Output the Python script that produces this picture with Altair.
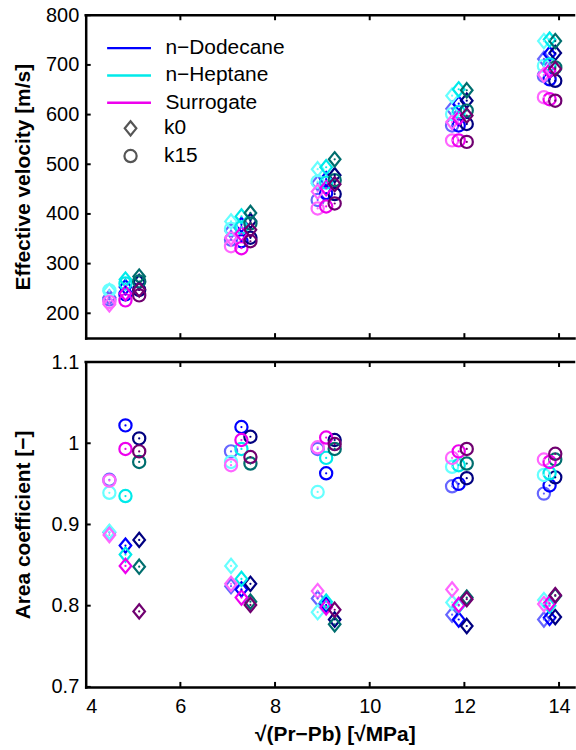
import altair as alt
import pandas as pd

FLUIDS = ["n−Dodecane", "n−Heptane", "Surrogate"]

# sqrt(Pr - Pb) for the three back pressures (light, mid, dark shade) at five rail pressures
X_LIGHT = [4.50, 7.07, 8.90, 11.74, 13.68]
X_MID = [4.84, 7.29, 9.08, 11.88, 13.80]
X_DARK = [5.13, 7.48, 9.26, 12.05, 13.92]

# Effective velocity [m/s]; rows are light / mid / dark shade
VEL_K0_DODECANE = [[232, 366, 462, 612, 712], [253, 378, 470, 622, 722], [263, 386, 478, 628, 724]]
VEL_K0_HEPTANE = [[245, 385, 490, 638, 748], [268, 395, 494, 651, 751], [274, 402, 510, 649, 748]]
VEL_K0_SURROGATE = [[218, 352, 445, 585, 680], [240, 360, 452, 592, 688], [248, 368, 460, 598, 692]]
VEL_K15_DODECANE = [[228, 348, 428, 578, 678], [238, 345, 442, 578, 671], [247, 352, 440, 581, 668]]
VEL_K15_HEPTANE = [[246, 370, 465, 601, 698], [260, 373, 463, 605, 701], [264, 381, 468, 608, 695]]
VEL_K15_SURROGATE = [[223, 335, 411, 548, 635], [226, 331, 415, 548, 631], [236, 345, 421, 545, 628]]

# Area coefficient [-]
AREA_K0_DODECANE = [[0.890, 0.824, 0.809, 0.789, 0.783], [0.874, 0.820, 0.801, 0.783, 0.785], [0.881, 0.827, 0.783, 0.775, 0.786]]
AREA_K0_HEPTANE = [[0.891, 0.849, 0.792, 0.804, 0.807], [0.863, 0.833, 0.805, 0.800, 0.800], [0.848, 0.805, 0.777, 0.810, 0.812]]
AREA_K0_SURROGATE = [[0.887, 0.827, 0.818, 0.820, 0.802], [0.849, 0.810, 0.798, 0.801, 0.803], [0.793, 0.801, 0.795, 0.808, 0.813]]
AREA_K15_DODECANE = [[0.955, 0.990, 0.993, 0.947, 0.938], [1.022, 1.020, 0.963, 0.950, 0.948], [1.006, 1.008, 1.004, 0.957, 0.958]]
AREA_K15_HEPTANE = [[0.939, 0.977, 0.940, 0.971, 0.961], [0.935, 0.993, 0.982, 0.973, 0.963], [0.977, 0.975, 0.993, 0.975, 0.980]]
AREA_K15_SURROGATE = [[0.954, 0.973, 0.995, 0.982, 0.980], [0.993, 1.004, 1.007, 0.990, 0.977], [0.990, 0.983, 0.999, 0.993, 0.987]]

SHADE_COLORS = {
    "n−Dodecane": ["#6666ff", "#0000ff", "#000080"],
    "n−Heptane": ["#66ffff", "#00eaea", "#006e6e"],
    "Surrogate": ["#ff66ff", "#ee00ee", "#700070"],
}

X_TICKS = [4, 6, 8, 10, 12, 14]
VEL_TICKS = [200, 300, 400, 500, 600, 700, 800]
AREA_TICKS = [0.7, 0.8, 0.9, 1.0, 1.1]

X_BY_SHADE = [X_LIGHT, X_MID, X_DARK]
VEL = {
    ("n−Dodecane", "k0"): VEL_K0_DODECANE, ("n−Heptane", "k0"): VEL_K0_HEPTANE,
    ("Surrogate", "k0"): VEL_K0_SURROGATE, ("n−Dodecane", "k15"): VEL_K15_DODECANE,
    ("n−Heptane", "k15"): VEL_K15_HEPTANE, ("Surrogate", "k15"): VEL_K15_SURROGATE,
}
AREA = {
    ("n−Dodecane", "k0"): AREA_K0_DODECANE, ("n−Heptane", "k0"): AREA_K0_HEPTANE,
    ("Surrogate", "k0"): AREA_K0_SURROGATE, ("n−Dodecane", "k15"): AREA_K15_DODECANE,
    ("n−Heptane", "k15"): AREA_K15_HEPTANE, ("Surrogate", "k15"): AREA_K15_SURROGATE,
}


def shade_key(fluid, s):
    return fluid if s == 1 else f"{fluid} {['light', 'mid', 'dark'][s]}"


rows = []
for fluid in FLUIDS:
    for k in ["k0", "k15"]:
        for s in range(3):
            for g in range(5):
                rows.append({
                    "key": shade_key(fluid, s),
                    "k": k,
                    "x": X_BY_SHADE[s][g],
                    "vel": VEL[(fluid, k)][s][g],
                    "area": AREA[(fluid, k)][s][g],
                })
points = pd.DataFrame(rows)

color_domain = list(FLUIDS) + [shade_key(f, s) for f in FLUIDS for s in (0, 2)]
color_range = [SHADE_COLORS[f][1] for f in FLUIDS] + [SHADE_COLORS[f][s] for f in FLUIDS for s in (0, 2)]

DIAMOND = "M0,-1.17L0.95,0L0,1.17L-0.95,0Z"
LEGEND_LINE = "M-4,0L4,0"

W = 490
H_TOP = 324
H_BOT = 326
X_DOM = [4, 14.316]
FONT = "Liberation Sans"
LABEL_SIZE = 20
LEGEND_SIZE = 21
TITLE_SIZE = 21
TICK_LEN = 5

x_ticks_df = pd.DataFrame({"v": X_TICKS[1:]})


def panel(field, ydom, yticks, ytitle, height, bottom, fmt):
    color_legend = None
    shape_legend = None
    if not bottom:
        color_legend = alt.Legend(
            title=None, orient="none", legendX=33, legendY=22.5, values=FLUIDS,
            symbolType=LEGEND_LINE, symbolSize=121, symbolStrokeWidth=2.5,
            labelFont=FONT, labelFontSize=LEGEND_SIZE, labelColor="black", labelOffset=26,
            rowPadding=5.4, padding=0,
        )
        shape_legend = alt.Legend(
            title=None, orient="none", legendX=34.5, legendY=103,
            symbolSize=150, symbolStrokeWidth=2.2, symbolStrokeColor="#555555",
            symbolFillColor="transparent",
            labelFont=FONT, labelFontSize=LEGEND_SIZE, labelColor="black", labelOffset=23,
            rowPadding=3.8, padding=0,
        )
    color = alt.Color("key:N", scale=alt.Scale(domain=color_domain, range=color_range), legend=color_legend)

    if bottom:
        xaxis = alt.Axis(values=X_TICKS, title="√(Pr−Pb) [√MPa]", titleX=250, titleY=37,
                         ticks=False, tickSize=0, labelPadding=10, grid=False)
    else:
        xaxis = alt.Axis(values=X_TICKS, labels=False, title=None, ticks=False, tickSize=0, grid=False)
    xs = alt.X("x:Q", scale=alt.Scale(domain=X_DOM, nice=False, zero=False), axis=xaxis)
    ys = alt.Y(f"{field}:Q", scale=alt.Scale(domain=ydom, nice=False, zero=False),
               axis=alt.Axis(values=yticks, title=ytitle, format=fmt, ticks=False, tickSize=0,
                             labelPadding=7, grid=False, titleX=-52))

    rings = alt.Chart(points).mark_point(filled=False, strokeWidth=2.2, size=150, opacity=1).encode(
        x=xs, y=ys, color=color,
        shape=alt.Shape("k:N", scale=alt.Scale(domain=["k0", "k15"], range=[DIAMOND, "circle"]),
                        legend=shape_legend),
    )
    dots = alt.Chart(points).mark_circle(size=5, opacity=1).encode(
        x="x:Q", y=f"{field}:Q", color=color,
    )

    ticks_df = pd.DataFrame({"v": yticks})
    xb = alt.Chart(x_ticks_df).mark_rule(color="black", strokeWidth=2).encode(
        x="v:Q", y=alt.value(height), y2=alt.value(height - TICK_LEN))
    xt = alt.Chart(x_ticks_df).mark_rule(color="black", strokeWidth=2).encode(
        x="v:Q", y=alt.value(0), y2=alt.value(TICK_LEN))
    yl = alt.Chart(ticks_df).mark_rule(color="black", strokeWidth=2).encode(
        y="v:Q", x=alt.value(0), x2=alt.value(TICK_LEN))
    top_line = alt.Chart(x_ticks_df.head(1)).mark_rule(color="black", strokeWidth=2.5, strokeCap="square").encode(
        x=alt.value(0), x2=alt.value(W), y=alt.value(0))

    return alt.layer(rings, dots, xb, xt, yl, top_line).properties(width=W, height=height)


top = panel("vel", [150, 800], VEL_TICKS, "Effective velocity [m/s]", H_TOP, False, "d")
bottom = panel("area", [0.7, 1.1], AREA_TICKS, "Area coefficient [−]", H_BOT, True, ".2~f")

chart = (
    alt.vconcat(top, bottom, spacing=24, bounds="flush")
    .resolve_scale(color="independent", shape="independent")
    .properties(padding={"left": 13, "top": 4, "right": 0, "bottom": 0}, background="white")
    .configure_view(stroke=None)
    .configure_axis(
        domainColor="black", domainWidth=2.5, domainCap="square",
        labelFont=FONT, labelFontSize=LABEL_SIZE, labelColor="black",
        titleFont=FONT, titleFontSize=TITLE_SIZE, titleFontWeight="bold", titleColor="black",
    )
)

chart.save("out.html", embed_options={"renderer": "svg", "actions": False})
